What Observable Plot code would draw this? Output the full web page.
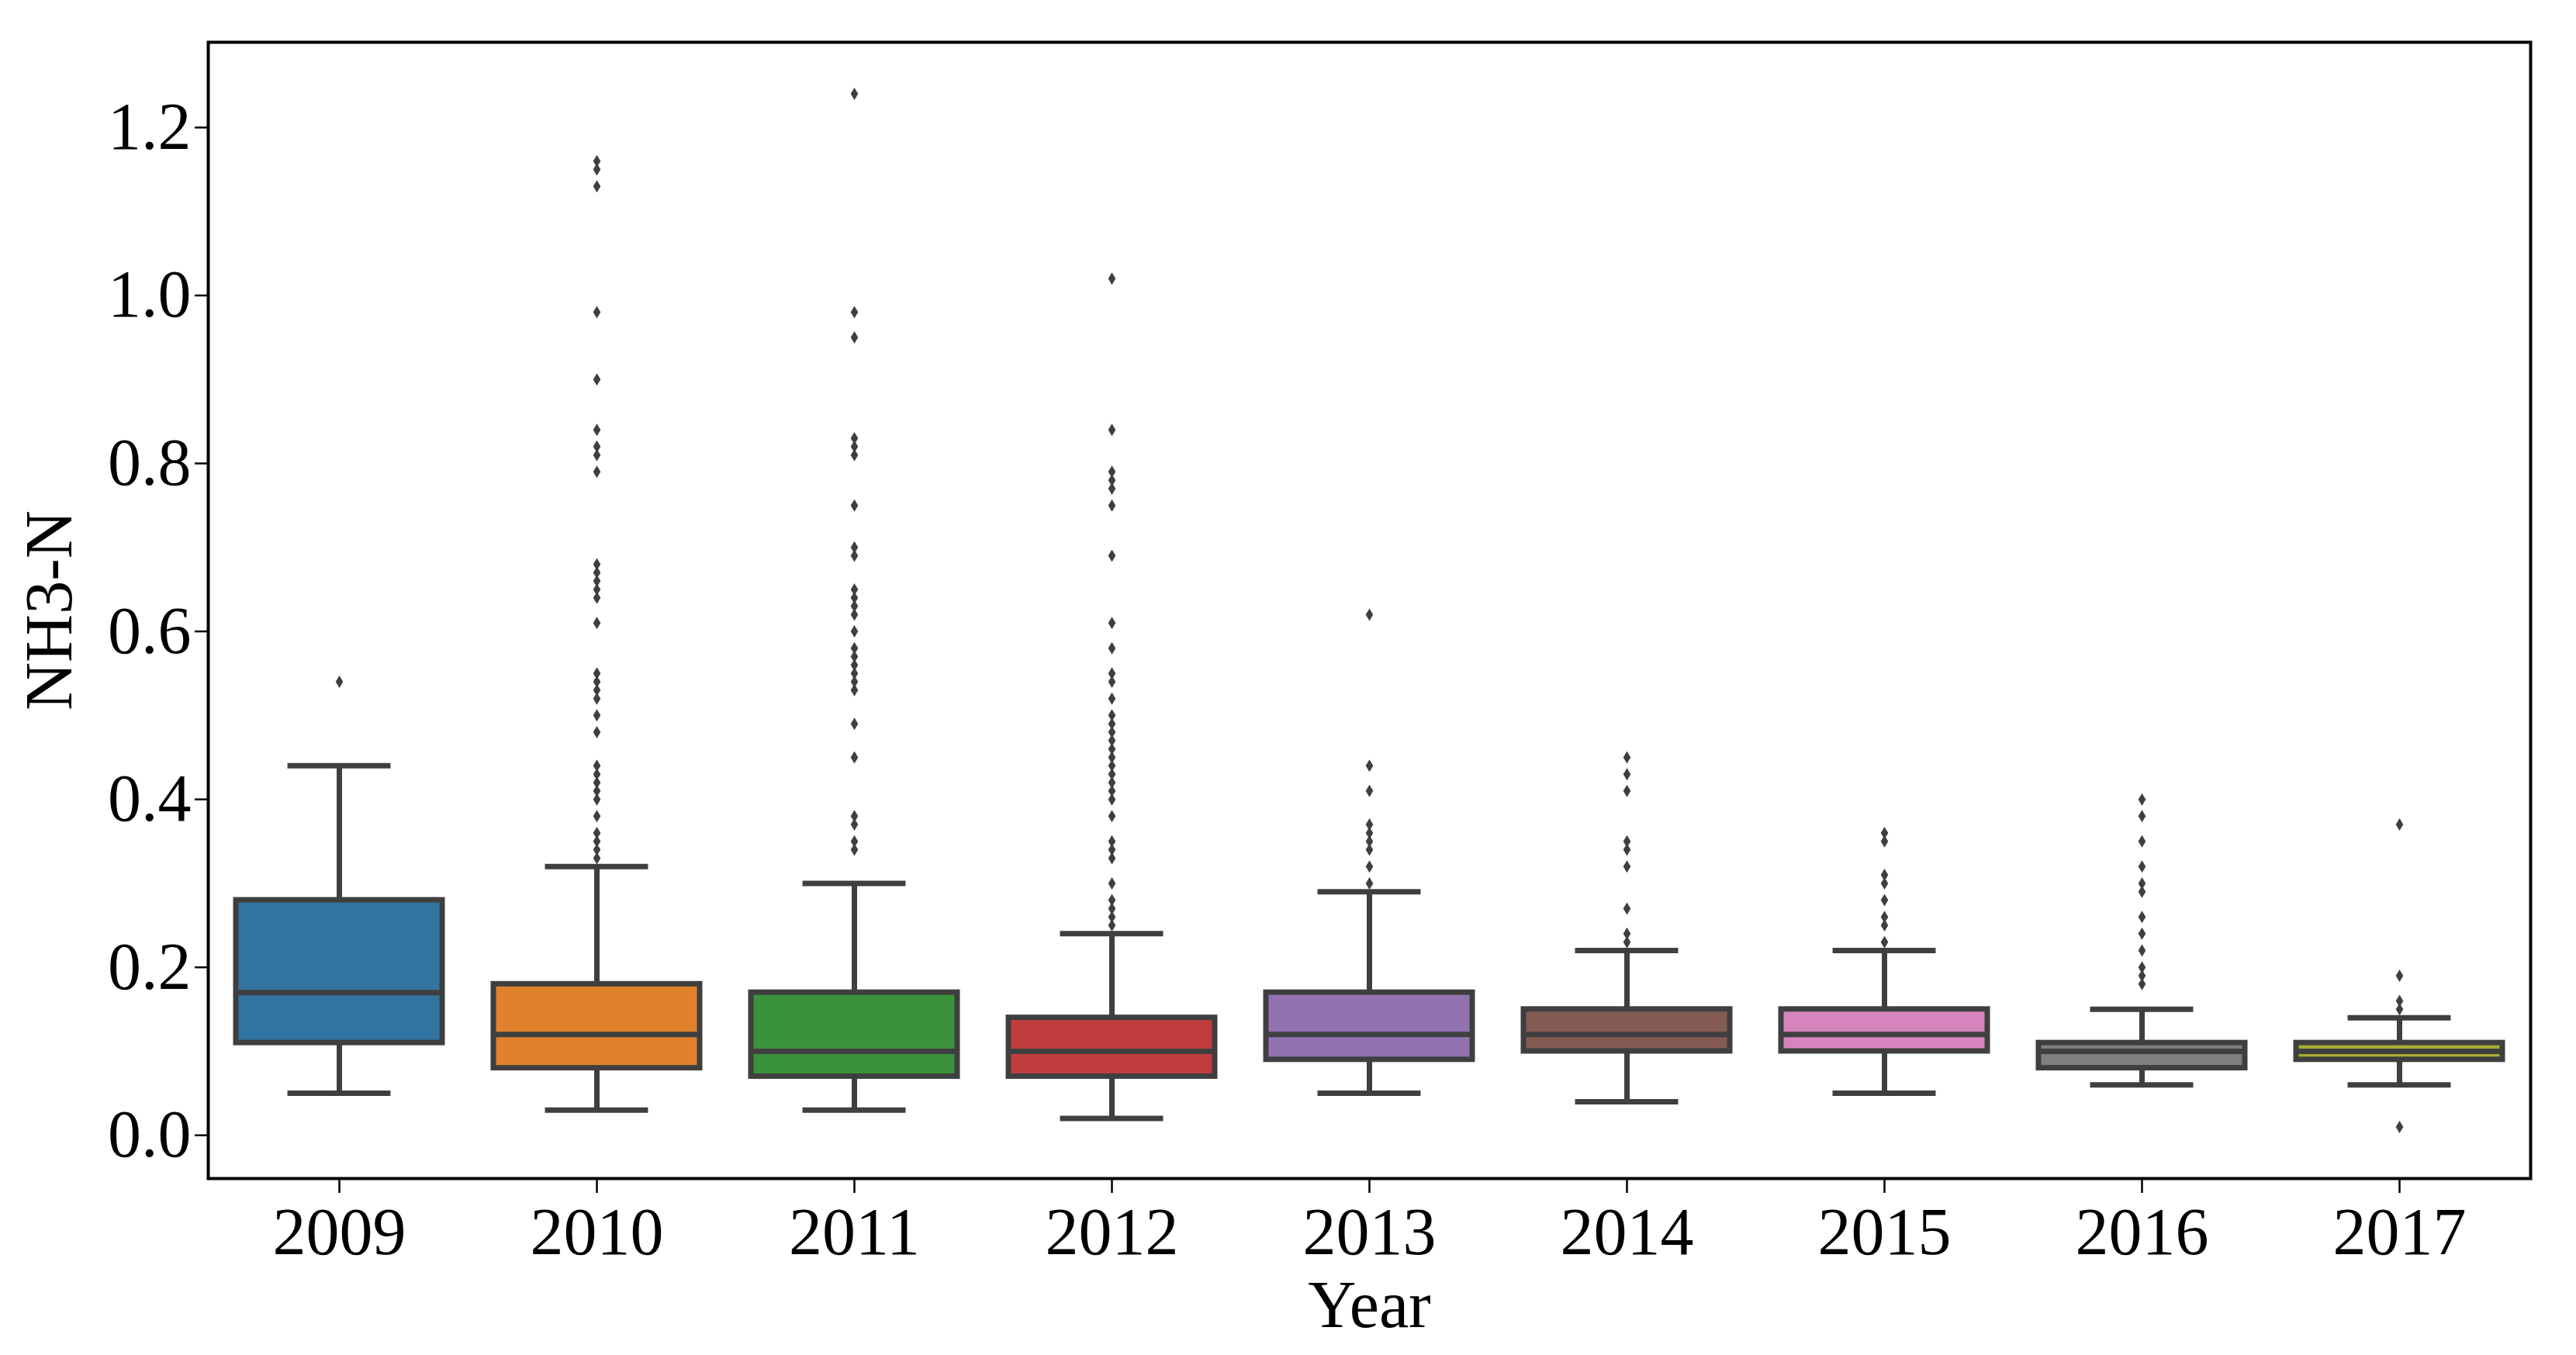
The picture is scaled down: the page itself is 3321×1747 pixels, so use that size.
<!DOCTYPE html>
<html>
<head>
<meta charset="utf-8">
<script src="https://cdn.jsdelivr.net/npm/d3@7"></script>
<script src="https://cdn.jsdelivr.net/npm/@observablehq/plot@0.6"></script>
<style>
  html, body { margin: 0; padding: 0; background: #fff; }
</style>
</head>
<body>
<div id="chart"></div>
<script>
// ---- Data ----
const years = ["2009", "2010", "2011", "2012", "2013", "2014", "2015", "2016", "2017"];
const whiskerLow  = [0.05, 0.03, 0.03, 0.02, 0.05, 0.04, 0.05, 0.06, 0.06];
const q1          = [0.11, 0.08, 0.07, 0.07, 0.09, 0.10, 0.10, 0.08, 0.09];
const median      = [0.17, 0.12, 0.10, 0.10, 0.12, 0.12, 0.12, 0.10, 0.10];
const q3          = [0.28, 0.18, 0.17, 0.14, 0.17, 0.15, 0.15, 0.11, 0.11];
const whiskerHigh = [0.44, 0.32, 0.30, 0.24, 0.29, 0.22, 0.22, 0.15, 0.14];
const boxColors   = ["#3274a1", "#e1812c", "#3a923a", "#c03d3e", "#9372b2", "#845b53", "#d684bd", "#7f7f7f", "#a9aa35"];

const outliers2009 = [0.54];
const outliers2010 = [1.16, 1.15, 1.13, 0.98, 0.90, 0.84, 0.82, 0.81, 0.79, 0.68, 0.67, 0.66, 0.65, 0.64, 0.61,
                      0.55, 0.54, 0.53, 0.52, 0.50, 0.48, 0.44, 0.43, 0.42, 0.41, 0.40, 0.38, 0.36, 0.35, 0.34, 0.33];
const outliers2011 = [1.24, 0.98, 0.95, 0.83, 0.82, 0.81, 0.75, 0.70, 0.69, 0.65, 0.64, 0.63, 0.62, 0.60,
                      0.58, 0.57, 0.56, 0.55, 0.54, 0.53, 0.49, 0.45, 0.38, 0.37, 0.35, 0.34];
const outliers2012 = [1.02, 0.84, 0.79, 0.78, 0.77, 0.75, 0.69, 0.61, 0.58, 0.55, 0.54, 0.52, 0.50, 0.49, 0.48,
                      0.47, 0.46, 0.45, 0.44, 0.43, 0.42, 0.41, 0.40, 0.38, 0.35, 0.34, 0.33, 0.30, 0.28, 0.27, 0.26, 0.25];
const outliers2013 = [0.62, 0.44, 0.41, 0.37, 0.36, 0.35, 0.34, 0.32, 0.30];
const outliers2014 = [0.45, 0.43, 0.41, 0.35, 0.34, 0.32, 0.27, 0.24, 0.23];
const outliers2015 = [0.36, 0.35, 0.31, 0.30, 0.28, 0.26, 0.25, 0.23];
const outliers2016 = [0.40, 0.38, 0.35, 0.32, 0.30, 0.29, 0.26, 0.24, 0.22, 0.20, 0.19, 0.18];
const outliers2017 = [0.37, 0.19, 0.16, 0.15, 0.01];

const yTicks = [0, 0.2, 0.4, 0.6, 0.8, 1.0, 1.2];
const xLabel = "Year";
const yLabel = "NH3-N";

// ---- Build tables ----
const stats = years.map((year, i) => ({
  year, lo: whiskerLow[i], q1: q1[i], med: median[i], q3: q3[i], hi: whiskerHigh[i], color: boxColors[i]
}));
const outlierLists = [outliers2009, outliers2010, outliers2011, outliers2012, outliers2013,
                      outliers2014, outliers2015, outliers2016, outliers2017];
const outliers = outlierLists.flatMap((list, i) => list.map(value => ({year: years[i], value})));

// ---- Layout ----
const W = 3321, H = 1747;
const mL = 268, mR = 59, mT = 54, mB = 228;
const step = (W - mL - mR) / years.length;
const gray = "#3f3f3f";
const font = '"Liberation Serif", "Times New Roman", Times, serif';
const fs = 86;
const lw = 7;

// thin diamond (matplotlib "d" marker)
const thinDiamond = {
  draw(context, size) {
    const r = Math.sqrt(size / Math.PI);
    context.moveTo(0, -r);
    context.lineTo(0.6 * r, 0);
    context.lineTo(0, r);
    context.lineTo(-0.6 * r, 0);
    context.closePath();
  }
};

const capInset = step * 0.2;

const chart = Plot.plot({
  width: W,
  height: H,
  marginLeft: mL,
  marginRight: mR,
  marginTop: mT,
  marginBottom: mB,
  style: {fontFamily: font, fontSize: fs + "px", color: "black", background: "white"},
  x: {domain: years, paddingInner: 0.2, paddingOuter: 0.1, axis: null},
  y: {domain: [-0.0515, 1.3015], axis: null},
  marks: [
    Plot.ruleX(stats, {x: "year", y1: "lo", y2: "q1", stroke: gray, strokeWidth: lw}),
    Plot.ruleX(stats, {x: "year", y1: "q3", y2: "hi", stroke: gray, strokeWidth: lw}),
    Plot.tickY(stats, {x: "year", y: "lo", stroke: gray, strokeWidth: lw, insetLeft: capInset, insetRight: capInset}),
    Plot.tickY(stats, {x: "year", y: "hi", stroke: gray, strokeWidth: lw, insetLeft: capInset, insetRight: capInset}),
    Plot.barY(stats, {x: "year", y1: "q1", y2: "q3", fill: "color", stroke: gray, strokeWidth: lw}),
    Plot.tickY(stats, {x: "year", y: "med", stroke: gray, strokeWidth: lw}),
    Plot.dot(outliers, {x: "year", y: "value", symbol: thinDiamond, r: 8, fill: gray, stroke: "none"}),
    Plot.axisX({tickSize: 19, tickPadding: 17, label: null, fontSize: fs, strokeWidth: 2.5}),
    Plot.axisY({ticks: yTicks, tickFormat: d3.format(".1f"), tickSize: 17, tickPadding: 5, label: null, fontSize: fs, strokeWidth: 2.5}),
    Plot.frame({stroke: "black", strokeWidth: 4}),
    Plot.text([yLabel], {frameAnchor: "left", dx: -204, rotate: -90, textAnchor: "middle", lineAnchor: "middle", fontSize: fs, fill: "black"}),
    Plot.text([xLabel], {frameAnchor: "bottom", dy: 164, textAnchor: "middle", lineAnchor: "middle", fontSize: fs, fill: "black"})
  ]
});

document.getElementById("chart").appendChild(chart);
</script>
</body>
</html>
